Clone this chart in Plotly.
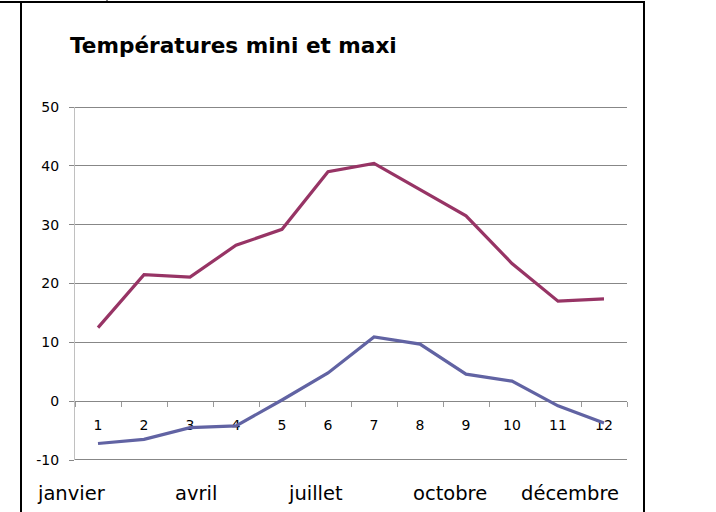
import plotly.graph_objects as go

# ---- data ----
mois_num = ["1", "2", "3", "4", "5", "6", "7", "8", "9", "10", "11", "12"]
temp_maxi = [12.5, 21.5, 21.1, 26.5, 29.2, 39.0, 40.4, 36.0, 31.5, 23.4, 17.0, 17.4]
temp_mini = [-7.2, -6.5, -4.5, -4.2, 0.2, 4.8, 10.9, 9.7, 4.6, 3.4, -0.8, -3.7]
y_ticks = [-10, 0, 10, 20, 30, 40, 50]
labels_bas = ["janvier", "avril", "juillet", "octobre", "décembre"]
titre = "Températures mini et maxi"

# ---- layout geometry (pixels) ----
W, H = 716, 512
L, R, T, B = 75, 89, 107, 52
PW, PH = W - L - R, H - T - B


def px(x):
    return (x - L) / PW


def py(y):
    return (H - B - y) / PH


FONT = "DejaVu Sans, Verdana, sans-serif"
GRID = "#878787"

fig = go.Figure()
fig.add_trace(go.Scatter(x=mois_num, y=temp_maxi, mode="lines",
                         line=dict(color="#973465", width=3.2), name="maxi"))
fig.add_trace(go.Scatter(x=mois_num, y=temp_mini, mode="lines",
                         line=dict(color="#6163A3", width=3.2), name="mini"))

bas_x = [71, 196, 315, 450, 570]
annotations = [
    dict(text=t, x=px(xp), y=py(493), xref="paper", yref="paper",
         xanchor="center", yanchor="middle", showarrow=False,
         font=dict(family=FONT, size=19.5, color="#000000"))
    for t, xp in zip(labels_bas, bas_x)
]
annotations.append(dict(text="<b>" + titre + "</b>", x=px(68), y=py(46),
                        xref="paper", yref="paper", xanchor="left",
                        yanchor="middle", showarrow=False,
                        font=dict(family=FONT, size=21.6, color="#000000")))

shapes = [
    # frame
    dict(type="line", xref="paper", yref="paper", x0=px(21), x1=px(21),
         y0=py(2), y1=py(520), line=dict(color="#000000", width=2)),
    dict(type="line", xref="paper", yref="paper", x0=px(644), x1=px(644),
         y0=py(2), y1=py(520), line=dict(color="#000000", width=2)),
    dict(type="line", xref="paper", yref="paper", x0=px(0), x1=px(645),
         y0=py(2), y1=py(2), line=dict(color="#000000", width=2)),
    dict(type="line", xref="paper", yref="paper", x0=px(107), x1=px(107),
         y0=py(-2), y1=py(3), line=dict(color="#000000", width=1)),
]
# edge gridlines (plotly drops gridlines lying on the plot-area edges);
# nudged half a pixel inward so they render crisp
half_px = 0.5 * (max(y_ticks) - min(y_ticks)) / PH
for v, s in ((min(y_ticks), 1), (max(y_ticks), -1)):
    yv = v + s * half_px
    shapes.append(dict(type="line", xref="paper", yref="y", x0=0, x1=1,
                       y0=yv, y1=yv, layer="below",
                       line=dict(color=GRID, width=1)))

fig.update_layout(
    width=W, height=H,
    margin=dict(l=L, r=R, t=T, b=B),
    paper_bgcolor="white", plot_bgcolor="white",
    showlegend=False,
    font=dict(family=FONT, size=14, color="#000000"),
    annotations=annotations,
    shapes=shapes,
    xaxis=dict(type="category", categoryorder="array", categoryarray=mois_num,
               range=[-0.5, len(mois_num) - 0.5],
               anchor="free", position=10 / 60, layer="below traces",
               showline=True, linecolor=GRID, linewidth=1,
               ticks="outside", tickson="boundaries", ticklen=5,
               tickcolor="#9a9a9a", showgrid=False, zeroline=False,
               ticklabelstandoff=11, tickfont=dict(size=14)),
    yaxis=dict(range=[min(y_ticks), max(y_ticks)], tickvals=y_ticks,
               ticktext=[str(v) for v in y_ticks], layer="below traces",
               showgrid=True, gridcolor=GRID,
               gridwidth=1, showline=True, linecolor="#c0c0c0", linewidth=1,
               ticks="outside", ticklen=5, tickcolor=GRID,
               zeroline=False, ticklabelstandoff=7, tickfont=dict(size=14)),
)

fig.write_html("out.html", config={"displayModeBar": False},
               post_script="document.body.style.margin='0';")
